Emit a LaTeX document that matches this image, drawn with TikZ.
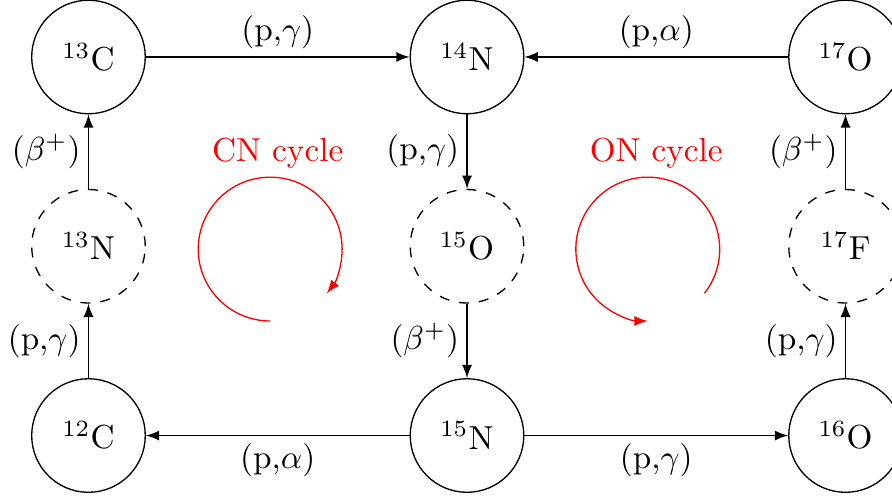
\documentclass[tikz,border=0pt]{standalone}
\usetikzlibrary{arrows}
\begin{document}
\begin{tikzpicture}[
  nuc/.style={circle,draw,minimum size=1.2cm,inner sep=0pt},
  unst/.style={nuc,dashed},
  react/.style={-latex},
  lab/.style={inner sep=2.2pt},
  cyc/.style={red,-latex}
]
\useasboundingbox (-0.935,-4.650) rectangle (8.491,0.602);
\node[nuc]  (C13) at (0,0)  {$^{13}$C};
\node[nuc]  (N14) at (4,0)  {$^{14}$N};
\node[nuc]  (O17) at (8,0)  {$^{17}$O};
\node[unst] (N13) at (0,-2) {$^{13}$N};
\node[unst] (O15) at (4,-2) {$^{15}$O};
\node[unst] (F17) at (8,-2) {$^{17}$F};
\node[nuc]  (C12) at (0,-4) {$^{12}$C};
\node[nuc]  (N15) at (4,-4) {$^{15}$N};
\node[nuc]  (O16) at (8,-4) {$^{16}$O};

\draw[react] (C12) -- node[lab,left] {(p,$\gamma$)} (N13);
\draw[react] (N13) -- node[lab,left] {($\beta^+$)} (C13);
\draw[react] (C13) -- node[lab,above] {(p,$\gamma$)} (N14);
\draw[react] (N14) -- node[lab,left] {(p,$\gamma$)} (O15);
\draw[react] (O15) -- node[lab,left] {($\beta^+$)} (N15);
\draw[react] (N15) -- node[lab,below] {(p,$\alpha$)} (C12);
\draw[react] (N15) -- node[lab,below] {(p,$\gamma$)} (O16);
\draw[react] (O16) -- node[lab,left] {(p,$\gamma$)} (F17);
\draw[react] (F17) -- node[lab,left] {($\beta^+$)} (O17);
\draw[react] (O17) -- node[lab,above] {(p,$\alpha$)} (N14);

\node[red] (cnlab) at (2,-1.02) {CN cycle};
\node[red] (onlab) at (6,-1.02) {ON cycle};
\coordinate (cnc) at (1.92,-2.03);
\coordinate (onc) at (5.91,-2.03);
\draw[cyc] ([shift={(270:0.76)}]cnc) arc[start angle=270,end angle=-38,radius=0.76];
\draw[cyc] ([shift={(-38:0.76)}]onc) arc[start angle=-38,end angle=270,radius=0.76];
\end{tikzpicture}
\end{document}
